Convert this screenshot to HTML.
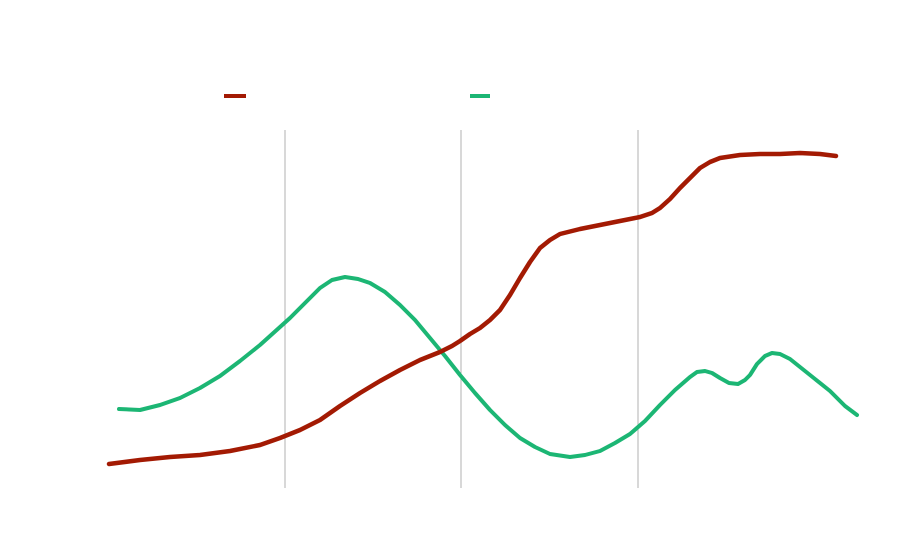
<!DOCTYPE html>
<html><head><meta charset="utf-8"><style>
html,body{margin:0;padding:0;background:#fff;width:919px;height:549px;overflow:hidden}
</style></head><body>
<svg width="919" height="549" xmlns="http://www.w3.org/2000/svg">
<g stroke="#b0b0b0" stroke-width="1">
<line x1="285" y1="130" x2="285" y2="488"/>
<line x1="461" y1="130" x2="461" y2="488"/>
<line x1="638" y1="130" x2="638" y2="488"/>
</g>
<line x1="224" y1="96" x2="246" y2="96" stroke="#a31a03" stroke-width="4"/>
<line x1="470" y1="96" x2="490" y2="96" stroke="#1cb674" stroke-width="4"/>
<polyline fill="none" stroke="#1cb674" stroke-width="4" stroke-linejoin="round" stroke-linecap="round"
points="119,409 140,410 160,405 180,398 200,388 220,376 240,361 260,345 290,318 305,303 320,288 332,280 345,277 358,279 370,283 385,292 400,305 415,320 430,338 445,356 460,375 475,393 490,410 505,425 520,438 535,447 550,454 570,457 585,455 600,451 615,443 630,434 645,421 660,405 675,390 690,377 697,372 705,371 712,373 720,378 729,383 738,384 745,380 750,375 757,364 765,356 772,353 780,354 790,359 800,367 815,379 830,391 845,406 857,415"/>
<polyline fill="none" stroke="#a31a03" stroke-width="4.5" stroke-linejoin="round" stroke-linecap="round"
points="109,464 140,460 170,457 200,455 230,451 260,445 280,438 300,430 320,420 340,406 360,393 380,381 400,370 420,360 440,352 452,346 460,341 470,334 480,328 490,320 500,310 510,295 520,278 530,262 540,248 550,240 560,234 580,229 600,225 620,221 640,217 652,213 660,208 670,199 680,188 690,178 700,168 710,162 720,158 740,155 760,154 780,154 800,153 820,154 836,156"/>
</svg>
</body></html>
